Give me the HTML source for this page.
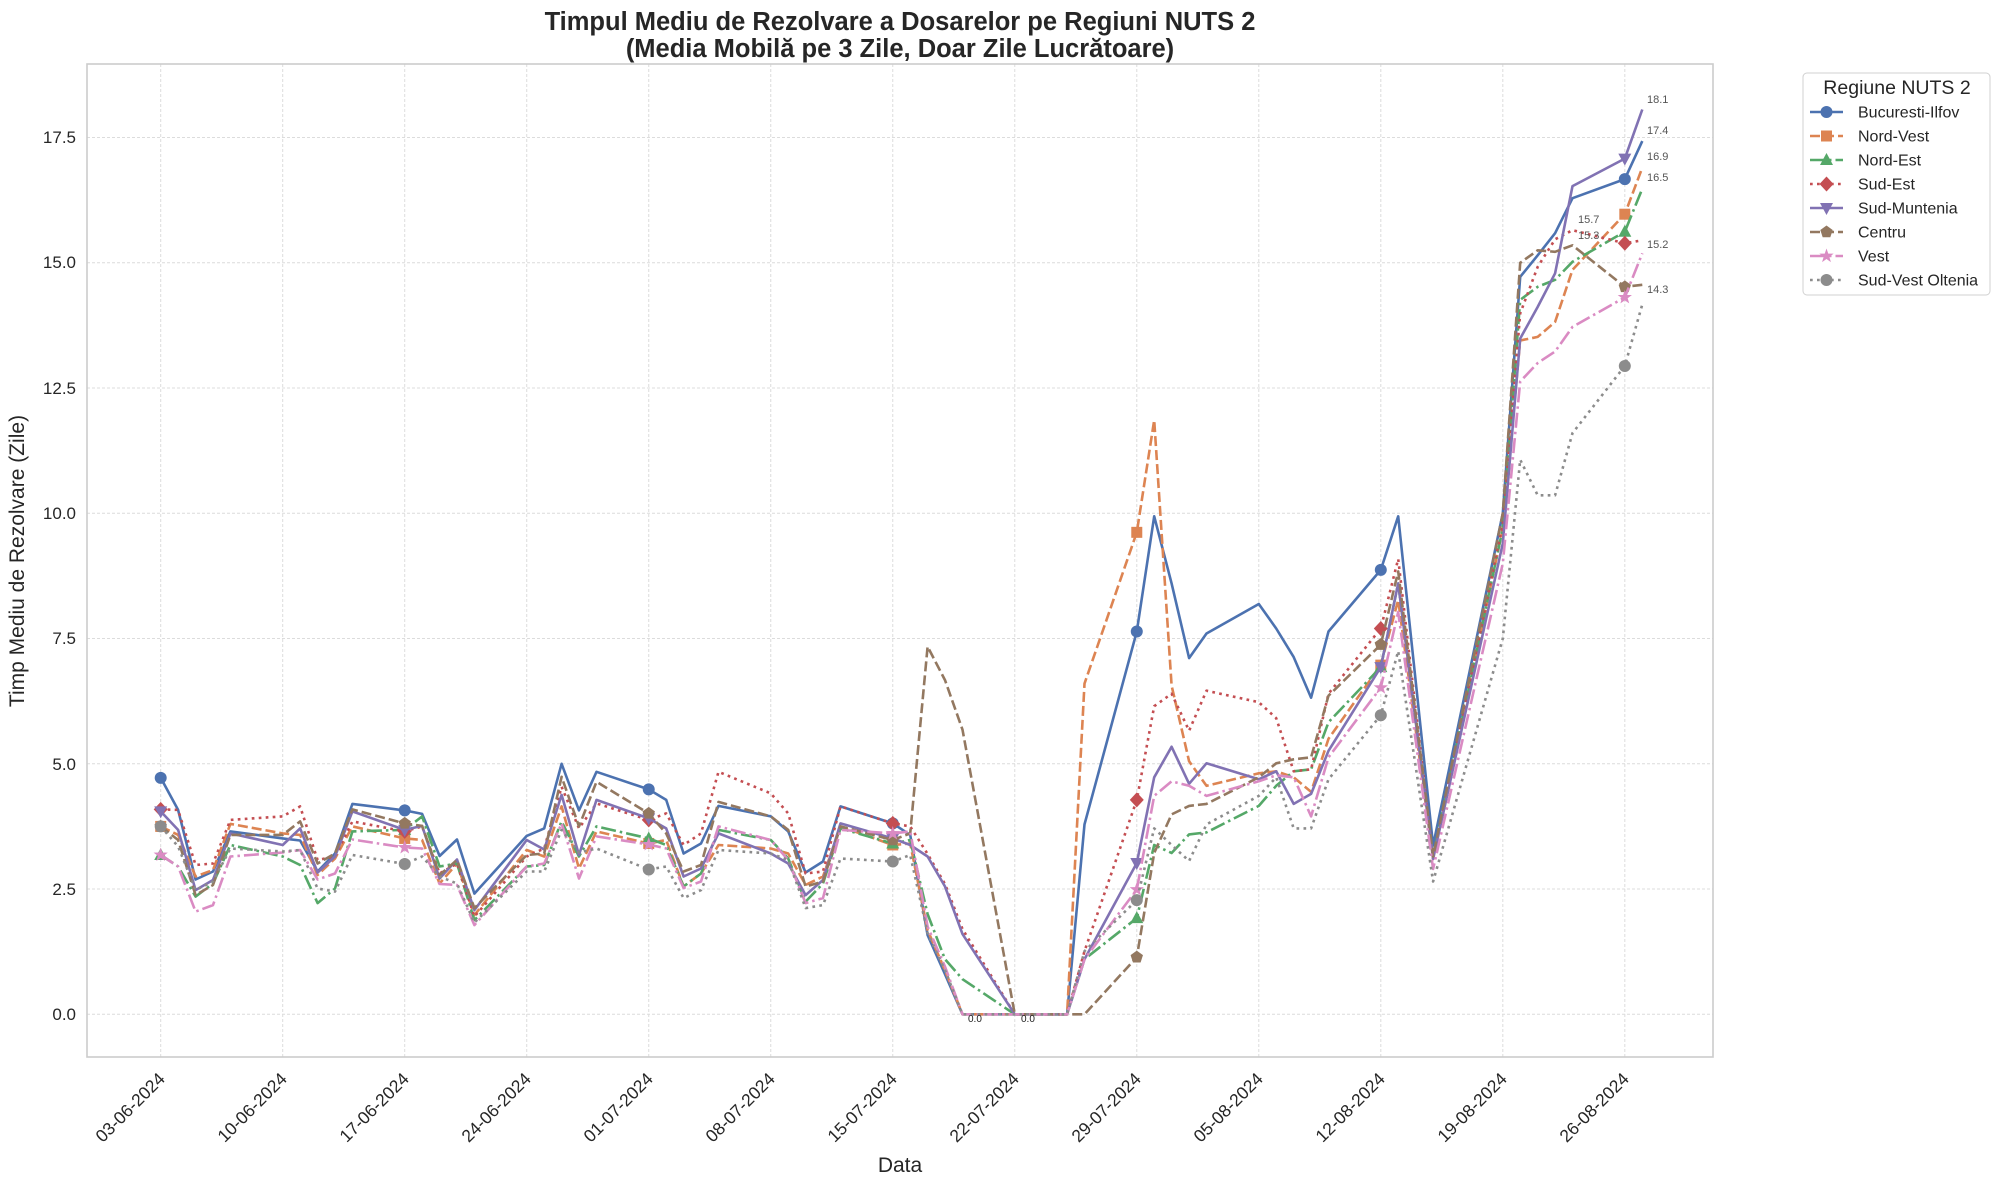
<!DOCTYPE html>
<html><head><meta charset="utf-8"><style>
html,body{margin:0;padding:0;background:#fff}
svg{display:block;font-family:"Liberation Sans",Arial,sans-serif}
</style></head><body>
<svg id="s" width="2000" height="1188" viewBox="0 0 2000 1188" xmlns="http://www.w3.org/2000/svg">
<rect width="2000" height="1188" fill="#fff"/>
<g id="grid" stroke="#dcdcdc" stroke-width="1" stroke-dasharray="3,2"></g>
<rect x="87" y="64" width="1626" height="993" fill="none" stroke="#cccccc" stroke-width="1.6"/>
<g id="series"></g>
<!-- title -->
<text x="900" y="30" text-anchor="middle" font-size="25.5" font-weight="bold" fill="#262626">Timpul Mediu de Rezolvare a Dosarelor pe Regiuni NUTS 2</text>
<text x="900" y="57" text-anchor="middle" font-size="25.5" font-weight="bold" fill="#262626">(Media Mobilă pe 3 Zile, Doar Zile Lucrătoare)</text>
<!-- y ticks -->
<g font-size="17" fill="#262626" text-anchor="end">
<text x="76" y="1020">0.0</text>
<text x="76" y="895">2.5</text>
<text x="76" y="770">5.0</text>
<text x="76" y="644">7.5</text>
<text x="76" y="519">10.0</text>
<text x="76" y="394">12.5</text>
<text x="76" y="268">15.0</text>
<text x="76" y="143">17.5</text>
</g>
<text transform="translate(24,561) rotate(-90)" text-anchor="middle" font-size="21" fill="#262626">Timp Mediu de Rezolvare (Zile)</text>
<text x="900" y="1172" text-anchor="middle" font-size="21" fill="#262626">Data</text>
<!-- x ticks -->
<g font-size="17.5" fill="#262626" text-anchor="end">
<text transform="translate(166,1080) rotate(-45)">03-06-2024</text>
<text transform="translate(288,1080) rotate(-45)">10-06-2024</text>
<text transform="translate(410,1080) rotate(-45)">17-06-2024</text>
<text transform="translate(532,1080) rotate(-45)">24-06-2024</text>
<text transform="translate(654,1080) rotate(-45)">01-07-2024</text>
<text transform="translate(776,1080) rotate(-45)">08-07-2024</text>
<text transform="translate(898,1080) rotate(-45)">15-07-2024</text>
<text transform="translate(1020,1080) rotate(-45)">22-07-2024</text>
<text transform="translate(1142,1080) rotate(-45)">29-07-2024</text>
<text transform="translate(1264,1080) rotate(-45)">05-08-2024</text>
<text transform="translate(1386,1080) rotate(-45)">12-08-2024</text>
<text transform="translate(1508,1080) rotate(-45)">19-08-2024</text>
<text transform="translate(1630,1080) rotate(-45)">26-08-2024</text>
</g>
<!-- annotations -->
<g font-size="11" fill="#555">
<text x="1647" y="103">18.1</text>
<text x="1647" y="134">17.4</text>
<text x="1647" y="160">16.9</text>
<text x="1647" y="181">16.5</text>
<text x="1647" y="248">15.2</text>
<text x="1647" y="293">14.3</text>
<text x="1578" y="223">15.7</text>
<text x="1578" y="239">15.3</text>
</g>
<g font-size="10" fill="#222">
<text x="968" y="1022">0.0</text>
<text x="1021" y="1022">0.0</text>
</g>
<!-- legend -->
<rect x="1803" y="73" width="187" height="222" rx="4" fill="#fff" stroke="#d0d0d0" stroke-width="1"/>
<text x="1897" y="94" text-anchor="middle" font-size="19.5" fill="#262626">Regiune NUTS 2</text>
<g id="legend" font-size="16" fill="#262626"></g>
</svg>
<script>
(function(){
var NS="http://www.w3.org/2000/svg";
function X(d){return 160.7+17.43*d}
function Y(v){return 1014.3-50.1*v}
function el(t,a,p){var e=document.createElementNS(NS,t);for(var k in a)e.setAttribute(k,a[k]);p.appendChild(e);return e}
var grid=document.getElementById('grid');
for(var i=0;i<=12;i++){var x=X(7*i);el('line',{x1:x,y1:64,x2:x,y2:1057},grid)}
for(var j=0;j<=7;j++){var y=Y(2.5*j);el('line',{x1:87,y1:y,x2:1713,y2:y},grid)}
function P(s){var a=s.trim().split(/\s*,\s*/),r=[];for(var i=0;i<a.length;i++){var q=a[i].split(/\s+/);r.push([+q[0],+q[1]])}return r}
var zeros="46 0,49 0,50 0,51 0,52 0";
var S=[
{c:'#4C72B0',d:'',m:'o',n:'Bucuresti-Ilfov',p:P("0 4.72,1 4.08,2 2.69,3 2.85,4 3.65,7 3.51,8 3.47,9 2.85,10 3.21,11 4.2,14 4.07,15 4.0,16 3.16,17 3.49,18 2.41,21 3.56,22 3.71,23 5.0,24 4.07,25 4.84,28 4.49,29 4.28,30 3.21,31 3.41,32 4.16,35 3.95,36 3.65,37 2.83,38 3.05,39 4.15,42 3.81,43 3.58,44 1.58,45 0.8,"+zeros+",53 3.79,56 7.64,57 9.94,58 8.6,59 7.11,60 7.6,63 8.19,64 7.7,65 7.13,66 6.32,67 7.64,70 8.87,71 9.94,73 3.37,77 10.0,78 14.72,79 15.15,80 15.59,81 16.29,84 16.67,85 17.43")},
{c:'#DD8452',d:'10,4',m:'s',n:'Nord-Vest',p:P("0 3.75,1 3.58,2 2.75,3 2.88,4 3.8,7 3.61,8 3.58,9 2.78,10 3.11,11 3.75,14 3.51,15 3.48,16 2.61,17 3.01,18 1.98,21 3.28,22 3.15,23 4.15,24 2.91,25 3.65,28 3.41,29 3.48,30 2.55,31 2.81,32 3.38,35 3.31,36 3.21,37 2.58,38 2.75,39 3.75,42 3.38,43 3.41,44 1.68,45 0.88,"+zeros+",53 6.6,56 9.62,57 11.86,58 6.56,59 5.05,60 4.56,63 4.81,64 4.85,65 4.73,66 4.44,67 5.5,70 6.97,71 8.27,73 3.1,77 9.7,78 13.45,79 13.52,80 13.82,81 14.86,84 15.97,85 16.9")},
{c:'#55A868',d:'15,4,2.5,4',m:'^',n:'Nord-Est',p:P("0 3.18,1 2.95,2 2.35,3 2.61,4 3.38,7 3.15,8 2.98,9 2.22,10 2.51,11 3.65,14 3.68,15 3.95,16 2.95,17 3.01,18 1.88,21 2.95,22 2.98,23 3.85,24 3.15,25 3.75,28 3.51,29 3.38,30 2.55,31 2.81,32 3.68,35 3.48,36 3.11,37 2.25,38 2.61,39 3.71,42 3.41,43 3.48,44 2.0,45 1.1,46 0.7,49 0,50 0,51 0,52 0,53 1.1,56 1.92,57 3.38,58 3.22,59 3.59,60 3.63,63 4.16,64 4.56,65 4.85,66 4.89,67 5.83,70 6.93,71 8.6,73 3.15,77 9.7,78 14.26,79 14.52,80 14.66,81 15.02,84 15.62,85 16.48")},
{c:'#C44E52',d:'2.7,4.3',m:'D',n:'Sud-Est',p:P("0 4.09,1 4.08,2 2.98,3 3.01,4 3.88,7 3.95,8 4.15,9 3.08,10 3.15,11 3.85,14 3.65,15 3.75,16 2.81,17 3.01,18 1.95,21 3.15,22 3.31,23 4.54,24 3.71,25 4.21,28 3.88,29 4.01,30 3.38,31 3.61,32 4.84,35 4.41,36 4.01,37 2.81,38 2.85,39 4.15,42 3.81,43 3.75,44 3.2,45 2.6,46 1.7,49 0,50 0,51 0,52 0,53 1.26,56 4.28,57 6.15,58 6.4,59 5.66,60 6.46,63 6.23,64 5.91,65 4.85,66 4.89,67 6.4,70 7.7,71 9.09,73 3.1,77 9.8,78 13.99,79 14.92,80 15.47,81 15.65,84 15.39,85 15.45")},
{c:'#8172B3',d:'',m:'v',n:'Sud-Muntenia',p:P("0 4.05,1 3.68,2 2.48,3 2.68,4 3.61,7 3.38,8 3.71,9 2.83,10 3.15,11 4.05,14 3.68,15 3.76,16 2.71,17 3.09,18 2.08,21 3.48,22 3.29,23 4.38,24 3.18,25 4.28,28 3.91,29 3.71,30 2.75,31 2.91,32 3.61,35 3.21,36 3.01,37 2.38,38 2.68,39 3.81,42 3.51,43 3.38,44 3.15,45 2.55,46 1.6,49 0,50 0,51 0,52 0,53 1.1,56 3.02,57 4.73,58 5.34,59 4.6,60 5.01,63 4.69,64 4.85,65 4.2,66 4.4,67 5.26,70 6.93,71 8.6,73 3.1,77 9.4,78 13.49,79 14.12,80 14.79,81 16.53,84 17.08,85 18.06")},
{c:'#937860',d:'10,4',m:'p',n:'Centru',p:P("0 3.75,1 3.48,2 2.38,3 2.58,4 3.58,7 3.58,8 3.85,9 3.01,10 3.21,11 4.09,14 3.81,15 3.76,16 2.78,17 3.08,18 2.12,21 3.18,22 3.21,23 4.74,24 3.75,25 4.64,28 4.01,29 3.61,30 2.85,31 2.98,32 4.24,35 3.95,36 3.68,37 2.55,38 2.65,39 3.75,42 3.48,43 3.61,44 7.34,45 6.67,46 5.68,49 0,50 0,51 0,52 0,53 0,56 1.14,57 3.22,58 3.99,59 4.16,60 4.2,63 4.73,64 5.01,65 5.09,66 5.13,67 6.36,70 7.38,71 8.84,73 3.15,77 10.0,78 15.0,79 15.25,80 15.22,81 15.35,84 14.52,85 14.56")},
{c:'#DA8BC3',d:'15,4,2.5,4',m:'*',n:'Vest',p:P("0 3.18,1 2.95,2 2.05,3 2.18,4 3.15,7 3.23,8 3.28,9 2.69,10 2.81,11 3.49,14 3.33,15 3.31,16 2.6,17 2.58,18 1.78,21 2.95,22 3.01,23 3.81,24 2.71,25 3.55,28 3.39,29 3.31,30 2.52,31 2.65,32 3.75,35 3.48,36 3.08,37 2.22,38 2.32,39 3.68,42 3.61,43 3.65,44 1.75,45 0.95,"+zeros+",53 1.1,56 2.49,57 4.36,58 4.65,59 4.56,60 4.36,63 4.65,64 4.77,65 4.73,66 3.95,67 5.13,70 6.52,71 8.03,73 2.9,77 9.0,78 12.63,79 13.0,80 13.23,81 13.72,84 14.31,85 15.19")},
{c:'#8C8C8C',d:'2.7,4.3',m:'h',n:'Sud-Vest Oltenia',p:P("0 3.75,1 3.35,2 2.48,3 2.65,4 3.31,7 3.25,8 3.28,9 2.51,10 2.45,11 3.18,14 3.0,15 3.15,16 2.75,17 2.61,18 1.83,21 2.85,22 2.85,23 3.68,24 3.23,25 3.31,28 2.89,29 2.95,30 2.32,31 2.48,32 3.28,35 3.21,36 3.08,37 2.12,38 2.18,39 3.11,42 3.05,43 3.18,44 1.62,45 0.88,"+zeros+",53 1.26,56 2.28,57 3.71,58 3.38,59 3.06,60 3.79,63 4.36,64 4.73,65 3.71,66 3.71,67 4.69,70 5.97,71 7.25,73 2.65,77 7.5,78 11.07,79 10.36,80 10.36,81 11.6,84 12.94,85 14.17")}
];
function marker(g,t,x,y,c){
 if(t=='o'||t=='h'){el('circle',{cx:x,cy:y,r:6,fill:c},g);return}
 var pts;
 if(t=='s')pts=[[-5.5,-5.5],[5.5,-5.5],[5.5,5.5],[-5.5,5.5]];
 else if(t=='^')pts=[[0,-7],[6.5,5],[-6.5,5]];
 else if(t=='v')pts=[[0,7],[6.5,-5],[-6.5,-5]];
 else if(t=='D')pts=[[0,-7.5],[7,0],[0,7.5],[-7,0]];
 else if(t=='p'){pts=[];for(var i=0;i<5;i++){var a=-Math.PI/2+i*2*Math.PI/5;pts.push([6.5*Math.cos(a),6.5*Math.sin(a)])}}
 else if(t=='*'){pts=[];for(var i=0;i<10;i++){var a=-Math.PI/2+i*Math.PI/5,rr=i%2?3:7.5;pts.push([rr*Math.cos(a),rr*Math.sin(a)])}}
 el('polygon',{points:pts.map(function(q){return (x+q[0])+','+(y+q[1])}).join(' '),fill:c},g);
}
var sg=document.getElementById('series'),lg=document.getElementById('legend');
var mdays={0:1,14:1,28:1,42:1,56:1,70:1,84:1};
S.forEach(function(s,k){
 var a={points:s.p.map(function(q){return X(q[0]).toFixed(1)+','+Y(q[1]).toFixed(1)}).join(' '),fill:'none',stroke:s.c,'stroke-width':2.6,'stroke-linejoin':'round'};
 if(s.d)a['stroke-dasharray']=s.d;
 el('polyline',a,sg);
 s.p.forEach(function(q){if(mdays[q[0]])marker(sg,s.m,X(q[0]),Y(q[1]),s.c)});
 var ly=112+24*k;
 var la={x1:1810,y1:ly,x2:1843,y2:ly,stroke:s.c,'stroke-width':2.6};
 if(s.d)la['stroke-dasharray']=s.d;
 el('line',la,lg);
 marker(lg,s.m,1826.5,ly,s.c);
 var t=el('text',{x:1858,y:ly+5.5},lg);t.textContent=s.n;
});
})();
</script>
</body></html>
